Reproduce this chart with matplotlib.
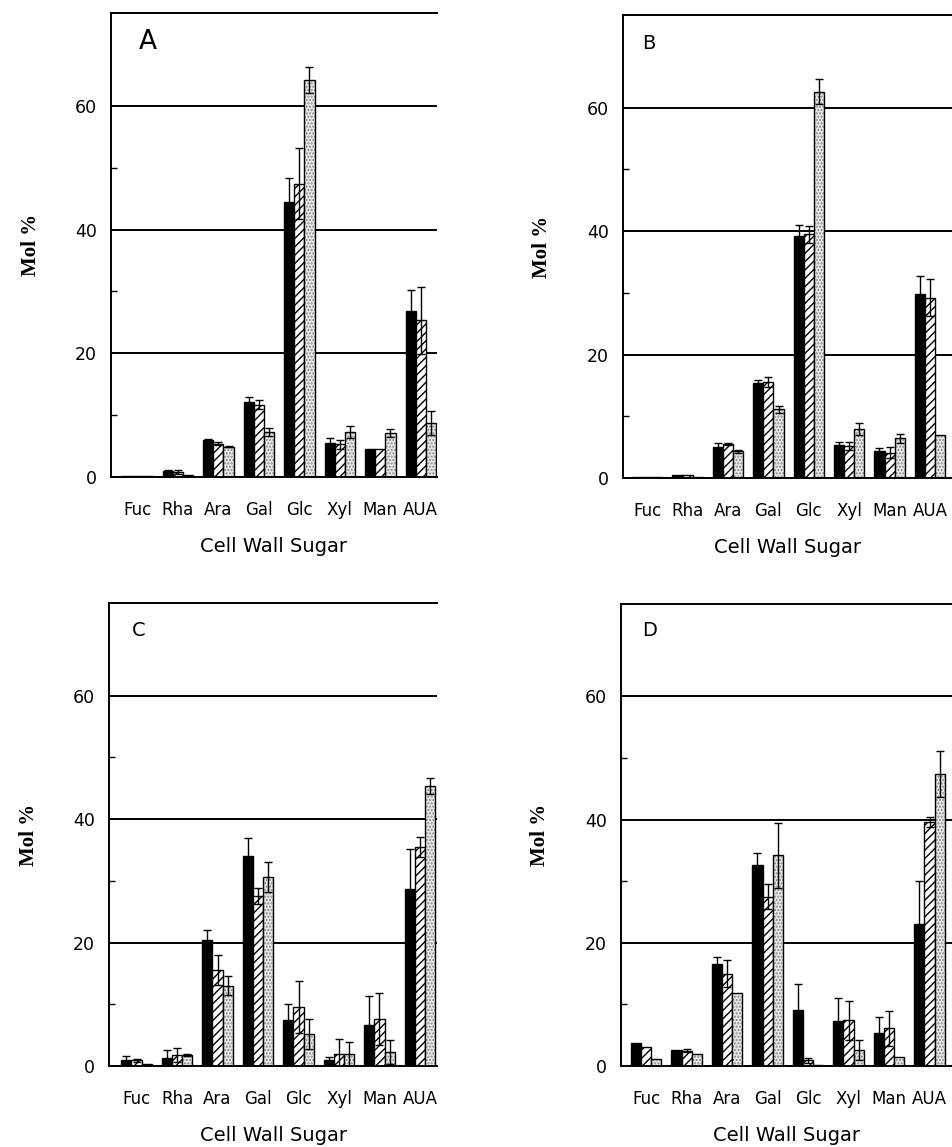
import numpy as np
import matplotlib
matplotlib.use("Agg")
import matplotlib.pyplot as plt

SUGARS = ["Fuc", "Rha", "Ara", "Gal", "Glc", "Xyl", "Man", "AUA"]

# panel A
A_BLACK = [0.2, 0.9, 5.9, 12.2, 44.5, 5.5, 4.5, 26.9]
A_BLACK_ERR = [0, 0.2, 0.2, 0.7, 3.9, 0.8, 0, 3.4]
A_HATCH = [0.2, 0.8, 5.4, 11.7, 47.4, 5.3, 4.5, 25.3]
A_HATCH_ERR = [0, 0.3, 0.2, 0.7, 5.7, 0.7, 0, 5.4]
A_DOT = [0.1, 0.3, 4.9, 7.3, 64.1, 7.3, 7.1, 8.7]
A_DOT_ERR = [0, 0, 0.1, 0.6, 2.1, 1.0, 0.6, 1.9]

# panel B
B_BLACK = [0.1, 0.5, 5.1, 15.4, 39.2, 5.4, 4.3, 29.8]
B_BLACK_ERR = [0, 0, 0.5, 0.5, 1.8, 0.4, 0.5, 3.0]
B_HATCH = [0.1, 0.5, 5.5, 15.5, 39.5, 5.2, 4.1, 29.2]
B_HATCH_ERR = [0, 0, 0.2, 0.8, 1.4, 0.7, 0.9, 3.0]
B_DOT = [0.1, 0.2, 4.3, 11.1, 62.6, 7.9, 6.4, 7.0]
B_DOT_ERR = [0, 0, 0.2, 0.6, 2.0, 1.0, 0.7, 0]

# panel C
C_BLACK = [1.0, 1.35, 20.4, 34.0, 7.5, 1.0, 6.7, 28.7]
C_BLACK_ERR = [0.6, 1.3, 1.7, 3.0, 2.6, 0.5, 4.7, 6.5]
C_HATCH = [0.9, 1.8, 15.6, 27.5, 9.6, 2.0, 7.6, 35.5]
C_HATCH_ERR = [0.3, 1.1, 2.4, 1.3, 4.2, 2.3, 4.2, 1.6]
C_DOT = [0.4, 1.8, 13.0, 30.6, 5.2, 1.9, 2.3, 45.3]
C_DOT_ERR = [0, 0.2, 1.5, 2.4, 2.4, 2.0, 1.9, 1.3]

# panel D
D_BLACK = [3.8, 2.6, 16.6, 32.7, 9.1, 7.3, 5.3, 23.1]
D_BLACK_ERR = [0, 0, 1.1, 1.8, 4.2, 3.8, 2.7, 6.9]
D_HATCH = [3.1, 2.5, 15.0, 27.5, 0.9, 7.4, 6.1, 39.6]
D_HATCH_ERR = [0, 0.2, 2.2, 2.0, 0.4, 3.2, 2.8, 0.8]
D_DOT = [1.2, 2.0, 11.8, 34.2, 0.1, 2.6, 1.4, 47.4]
D_DOT_ERR = [0, 0, 0, 5.3, 0, 1.6, 0, 3.8]

W, H = 953, 1147
plt.rcParams["hatch.linewidth"] = 1.0
plt.rcParams["font.family"] = "DejaVu Sans"

fig = plt.figure(figsize=(W / 100, H / 100), dpi=100)


def px_axes(left, top, right, bottom):
    return fig.add_axes([left / W, 1 - bottom / H, (right - left) / W, (bottom - top) / H])


def draw_panel(ax, letter, letter_pos, letter_size, xlim, series):
    x = np.arange(len(SUGARS))
    w = 0.25
    (blk, blk_e), (hat, hat_e), (dot, dot_e) = series

    ax.bar(x - w, blk, w, color="black", edgecolor="black", linewidth=1, zorder=2)
    ax.bar(x, hat, w, color="white", edgecolor="black", hatch="////", linewidth=1, zorder=2)
    ax.bar(x + w, dot, w, color="#e6e6e6", edgecolor="#8a8a8a", hatch=".....",
           linewidth=0, zorder=2)
    ax.bar(x + w, dot, w, fill=False, edgecolor="black", linewidth=1, zorder=2.1)

    for off, vals, errs in [(-w, blk, blk_e), (0, hat, hat_e), (w, dot, dot_e)]:
        vals = np.asarray(vals)
        errs = np.asarray(errs)
        m = errs > 0
        ax.errorbar(x[m] + off, vals[m], yerr=errs[m], fmt="none", ecolor="black",
                    elinewidth=1, capsize=2.8, capthick=1, zorder=3)

    ax.set_xlim(*xlim)
    ax.set_ylim(0, 75)
    ax.set_xticks(x)
    ax.set_xticklabels(SUGARS, fontsize=12)
    ax.set_yticks([0, 20, 40, 60])
    ax.set_yticklabels(["0", "20", "40", "60"], fontsize=12.5)
    ax.set_yticks([10, 30, 50], minor=True)
    ax.tick_params(axis="x", length=0, pad=17)
    ax.tick_params(axis="y", which="major", length=0, pad=10)
    ax.tick_params(axis="y", which="minor", length=4, direction="in", width=1)

    ax.grid(axis="y", color="black", linewidth=1.4)
    ax.set_axisbelow(True)
    ax.spines["right"].set_visible(False)
    for s in ["top", "left", "bottom"]:
        ax.spines[s].set_linewidth(1.4)

    ax.set_xlabel("Cell Wall Sugar", fontsize=14)
    ax.xaxis.label.set_va("center")
    ax.xaxis.set_label_coords(0.5, -70 / 464)
    ax.set_ylabel("Mol %", fontsize=15, fontweight="bold", family="Liberation Serif")
    ax.yaxis.label.set_va("center")
    ax.yaxis.set_label_coords(-0.245, 0.5)

    ax.text(letter_pos[0], letter_pos[1], letter, transform=ax.transAxes,
            fontsize=letter_size, va="top", ha="left")


axA = px_axes(111, 13, 437, 477)
draw_panel(axA, "A", (0.085, 0.965), 19, (-0.654, 7.4),
           [(A_BLACK, A_BLACK_ERR), (A_HATCH, A_HATCH_ERR), (A_DOT, A_DOT_ERR)])

axB = px_axes(623, 15, 953, 478)
draw_panel(axB, "B", (0.058, 0.958), 14, (-0.6, 7.57),
           [(B_BLACK, B_BLACK_ERR), (B_HATCH, B_HATCH_ERR), (B_DOT, B_DOT_ERR)])

axC = px_axes(109, 603, 437, 1066)
draw_panel(axC, "C", (0.07, 0.962), 14, (-0.68, 7.42),
           [(C_BLACK, C_BLACK_ERR), (C_HATCH, C_HATCH_ERR), (C_DOT, C_DOT_ERR)])

axD = px_axes(621, 604, 953, 1066)
draw_panel(axD, "D", (0.063, 0.964), 14, (-0.62, 7.58),
           [(D_BLACK, D_BLACK_ERR), (D_HATCH, D_HATCH_ERR), (D_DOT, D_DOT_ERR)])

fig.savefig("out.png", dpi=100)
